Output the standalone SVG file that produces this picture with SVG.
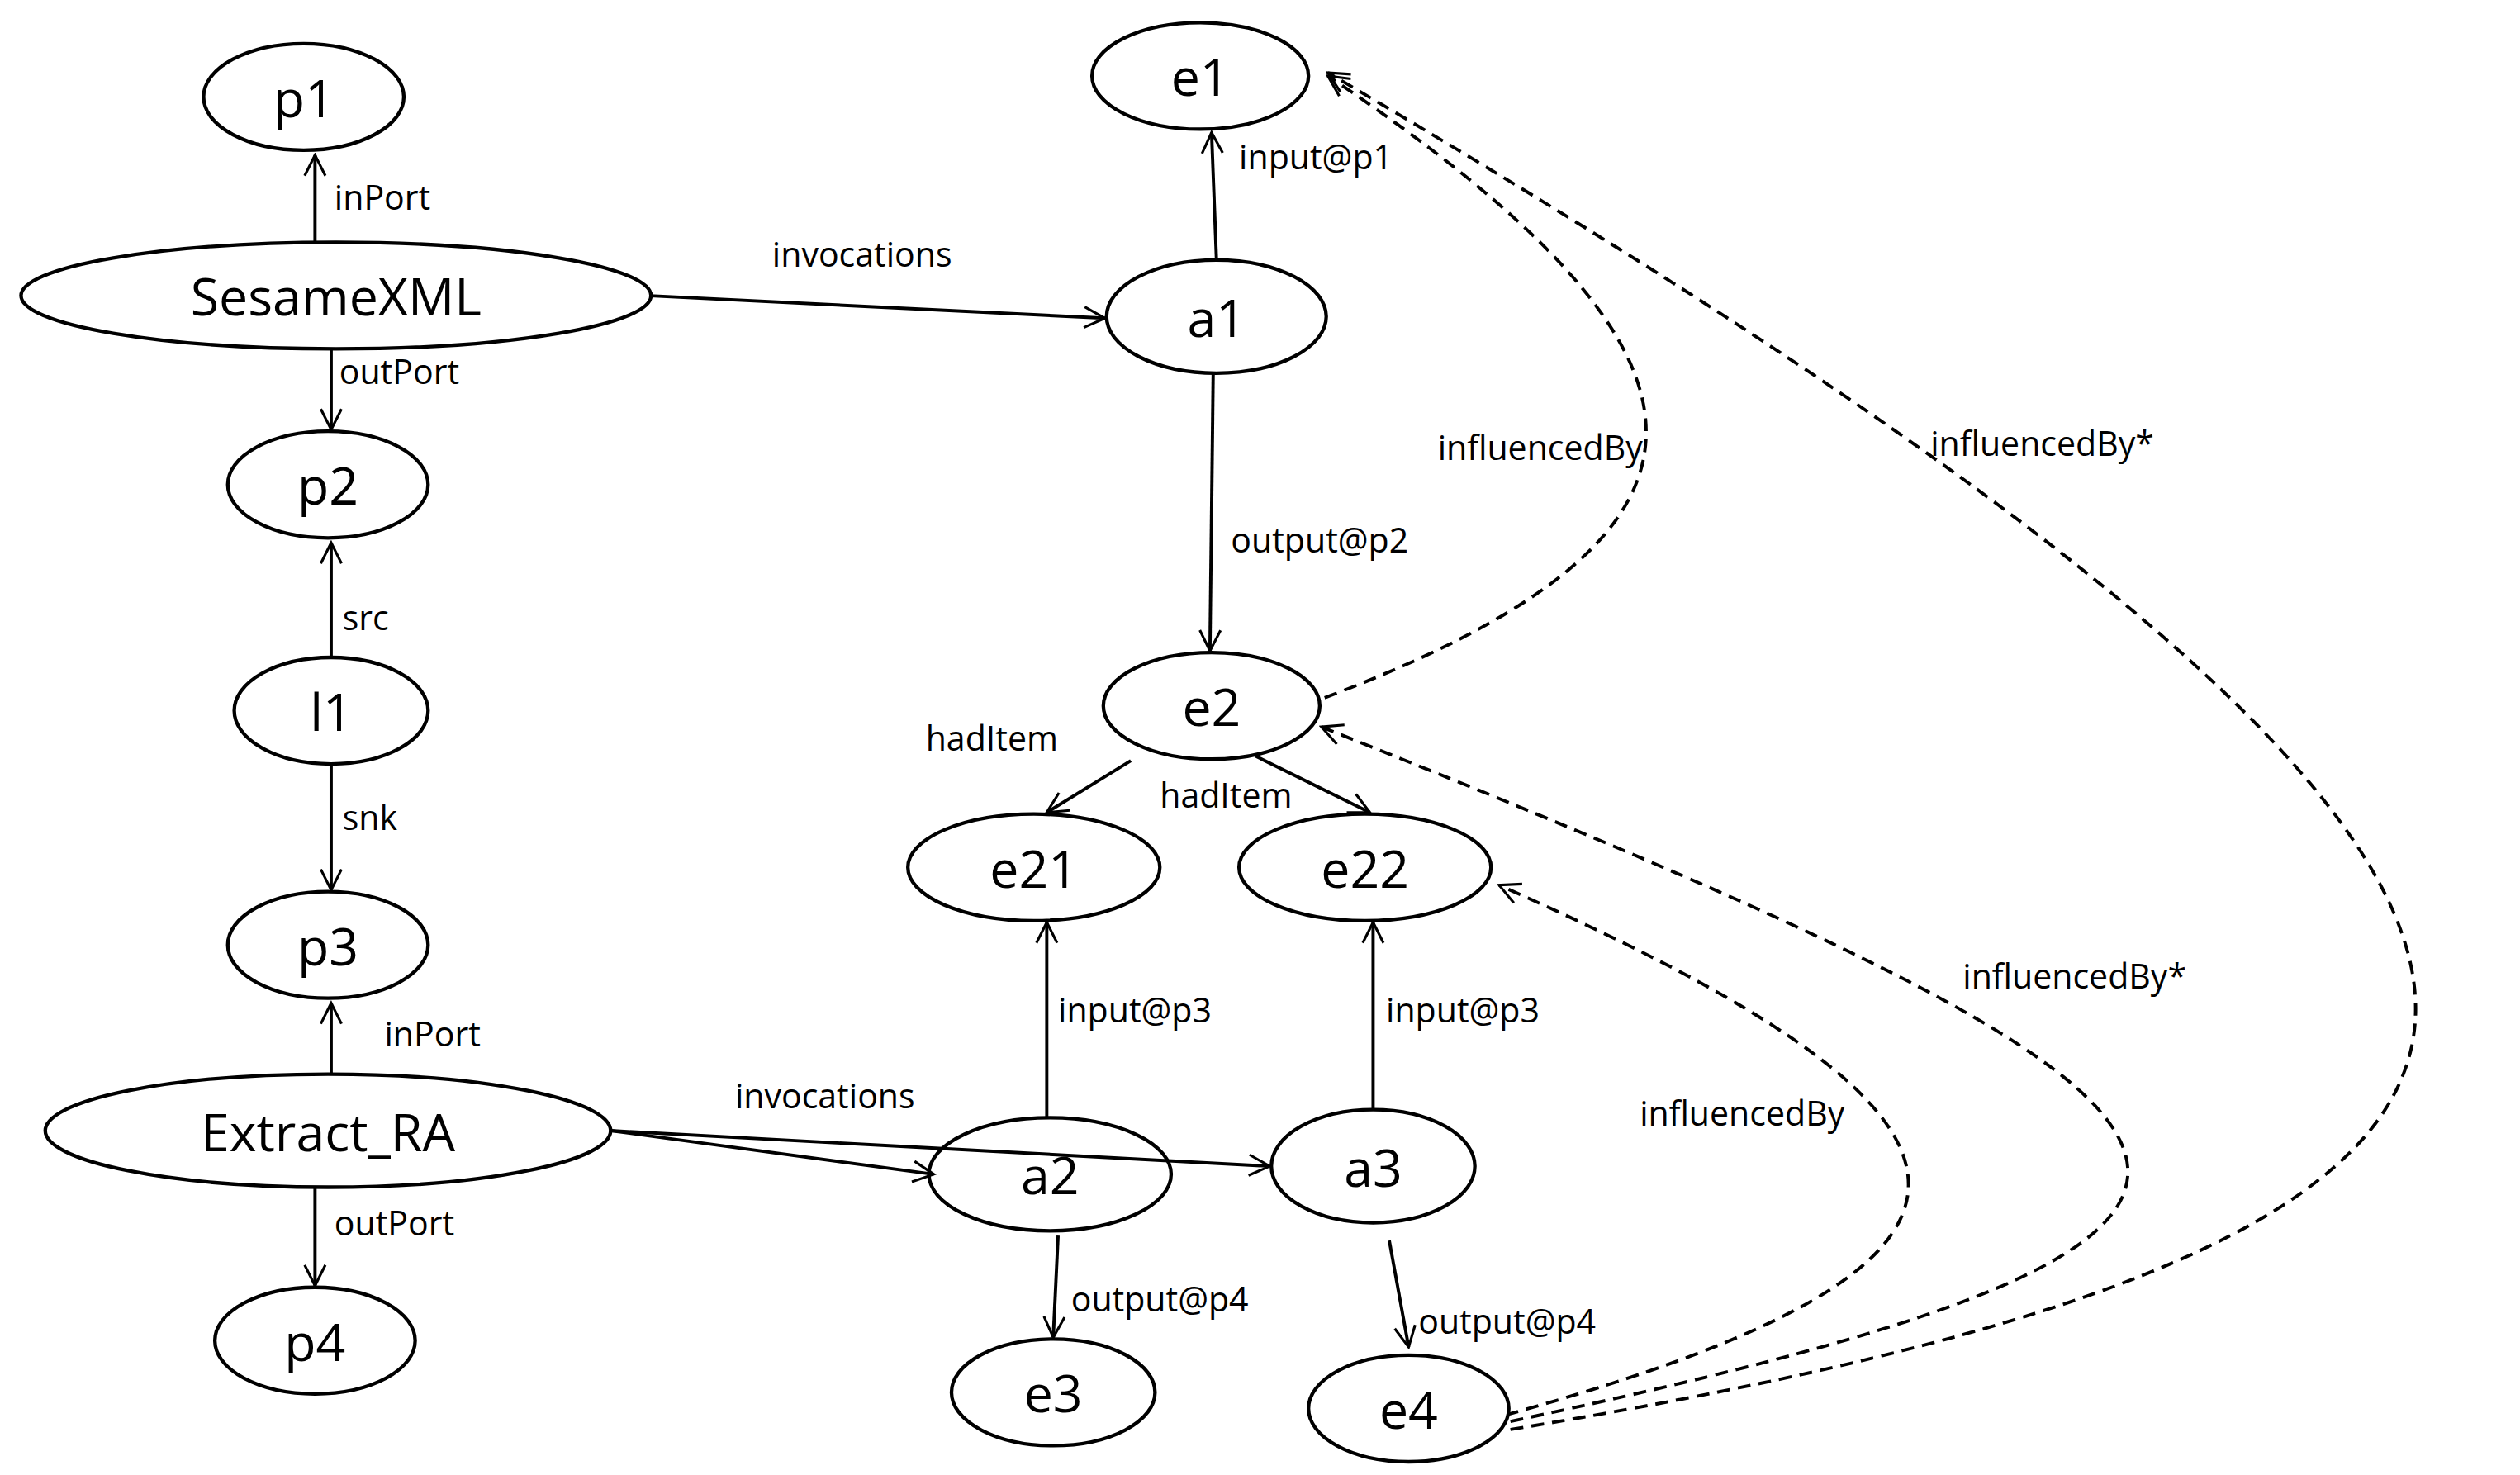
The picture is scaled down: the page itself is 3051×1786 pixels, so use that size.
<svg xmlns="http://www.w3.org/2000/svg" width="3051" height="1786" viewBox="0 0 3051 1786">
<style>
.n{fill:#fff;stroke:#000;stroke-width:2.2}
.t{font-family:"Open Sans","Liberation Sans",sans-serif;font-size:32px;text-anchor:middle;dominant-baseline:central}
.l{font-family:"Open Sans","Liberation Sans",sans-serif;font-size:21px}
.e{fill:none;stroke:#000;stroke-width:2;marker-end:url(#a)}
.d{fill:none;stroke:#000;stroke-width:2;stroke-dasharray:8,5;marker-end:url(#a)}
</style>
<defs><marker id="a" viewBox="0 0 20 20" refX="18" refY="10" markerWidth="16" markerHeight="16" markerUnits="userSpaceOnUse" orient="auto"><path d="M2,2 L18,10 L2,18" fill="none" stroke="#000" stroke-width="2"/></marker></defs>
<rect width="3051" height="1786" fill="#fff"/>
<g transform="scale(1.9558)">
<g id="connectors">
<path class="e" d="M195,150 L195,96"/><text class="l" x="207" y="130">inPort</text>
<path class="e" d="M205,216 L205,266"/><text class="l" x="210" y="238">outPort</text>
<path class="e" d="M205,407 L205,336"/><text class="l" x="212" y="390">src</text>
<path class="e" d="M205,473 L205,551"/><text class="l" x="212" y="514">snk</text>
<path class="e" d="M205,665 L205,621"/><text class="l" x="238" y="648">inPort</text>
<path class="e" d="M195,735 L195,796"/><text class="l" x="207" y="765">outPort</text>
<path class="e" d="M400,183 L684,197"/><text class="l" x="478" y="165">invocations</text>
<path class="e" d="M753,160 L750,82"/><text class="l" x="767" y="105">input@p1</text>
<path class="e" d="M751,231 L749,403"/><text class="l" x="762" y="342">output@p2</text>
<path class="e" d="M700,471 L648,503"/><text class="l" x="573" y="465">hadItem</text>
<path class="e" d="M777,468 L848,503"/><text class="l" x="718" y="500">hadItem</text>
<path class="e" d="M378,700 L578,727"/>
<path class="e" d="M378,700 L786,722"/><text class="l" x="455" y="686">invocations</text>
<path class="e" d="M648,692 L648,571"/><text class="l" x="655" y="633">input@p3</text>
<path class="e" d="M850,687 L850,571"/><text class="l" x="858" y="633">input@p3</text>
<path class="e" d="M655,765 L652,828"/><text class="l" x="663" y="812">output@p4</text>
<path class="e" d="M860,768 L872,834"/><text class="l" x="878" y="826">output@p4</text>
<path class="d" d="M820,432 C1090,330 1080,220 822,47"/><text class="l" x="890" y="285">influencedBy</text>
<path class="d" d="M935,885 C1700,760 1700,560 822,45"/><text class="l" x="1195" y="282">influencedBy*</text>
<path class="d" d="M935,880 C1500,760 1420,690 818,450"/><text class="l" x="1215" y="612">influencedBy*</text>
<path class="d" d="M932,876 C1280,780 1250,690 928,548"/><text class="l" x="1015" y="697">influencedBy</text>
</g>
<g id="p1"><ellipse class="n" cx="188" cy="60" rx="62" ry="33"/><text class="t" x="188" y="60">p1</text></g>
<g id="SesameXML"><ellipse class="n" cx="208" cy="183" rx="195" ry="33"/><text class="t" x="208" y="183">SesameXML</text></g>
<g id="p2"><ellipse class="n" cx="203" cy="300" rx="62" ry="33"/><text class="t" x="203" y="300">p2</text></g>
<g id="l1"><ellipse class="n" cx="205" cy="440" rx="60" ry="33"/><text class="t" x="205" y="440">l1</text></g>
<g id="p3"><ellipse class="n" cx="203" cy="585" rx="62" ry="33"/><text class="t" x="203" y="585">p3</text></g>
<g id="Extract_RA"><ellipse class="n" cx="203" cy="700" rx="175" ry="35"/><text class="t" x="203" y="700">Extract_RA</text></g>
<g id="p4"><ellipse class="n" cx="195" cy="830" rx="62" ry="33"/><text class="t" x="195" y="830">p4</text></g>
<g id="e1"><ellipse class="n" cx="743" cy="47" rx="67" ry="33"/><text class="t" x="743" y="47">e1</text></g>
<g id="a1"><ellipse class="n" cx="753" cy="196" rx="68" ry="35"/><text class="t" x="753" y="196">a1</text></g>
<g id="e2"><ellipse class="n" cx="750" cy="437" rx="67" ry="33"/><text class="t" x="750" y="437">e2</text></g>
<g id="e21"><ellipse class="n" cx="640" cy="537" rx="78" ry="33"/><text class="t" x="640" y="537">e21</text></g>
<g id="e22"><ellipse class="n" cx="845" cy="537" rx="78" ry="33"/><text class="t" x="845" y="537">e22</text></g>
<g id="a2"><ellipse class="n" cx="650" cy="727" rx="75" ry="35" style="fill:none"/><text class="t" x="650" y="727">a2</text></g>
<g id="a3"><ellipse class="n" cx="850" cy="722" rx="63" ry="35"/><text class="t" x="850" y="722">a3</text></g>
<g id="e3"><ellipse class="n" cx="652" cy="862" rx="63" ry="33"/><text class="t" x="652" y="862">e3</text></g>
<g id="e4"><ellipse class="n" cx="872" cy="872" rx="62" ry="33"/><text class="t" x="872" y="872">e4</text></g>
</g>
</svg>
